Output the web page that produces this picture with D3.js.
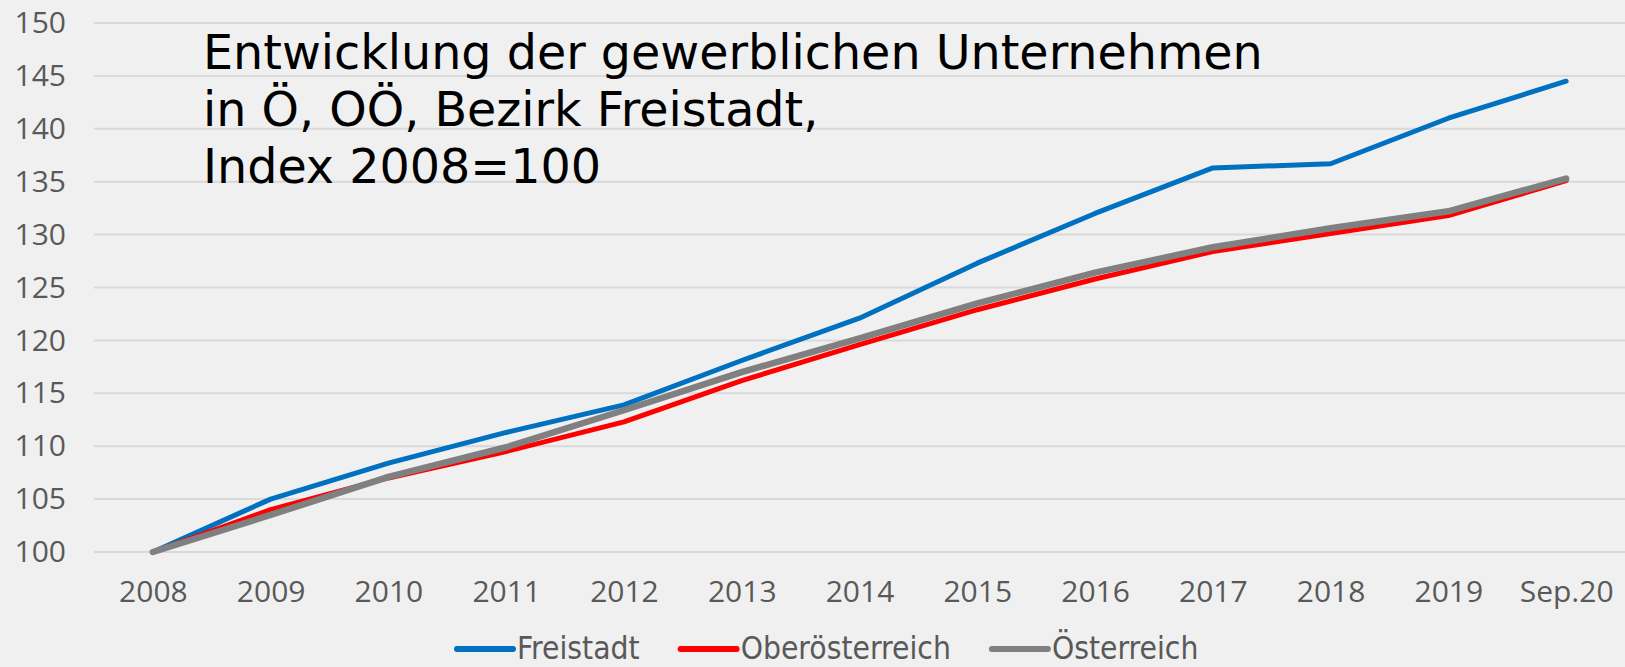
<!DOCTYPE html>
<html>
<head>
<meta charset="utf-8">
<script src="https://cdn.jsdelivr.net/npm/d3@7"></script>
<style>
  html, body { margin: 0; padding: 0; background: #F0F0F0; }
  svg { display: block; }
</style>
</head>
<body>
<svg id="chart" width="1625" height="667"></svg>
<script>
const categories = ["2008","2009","2010","2011","2012","2013","2014","2015","2016","2017","2018","2019","Sep.20"];
const freistadt = [100, 105.0, 108.4, 111.3, 113.9, 118.1, 122.1, 127.3, 132.0, 136.3, 136.7, 141.0, 144.5];
const oberoesterreich = [100, 104.0, 107.0, 109.5, 112.3, 116.2, 119.6, 122.9, 125.8, 128.4, 130.1, 131.8, 135.1];
const oesterreich = [100, 103.5, 107.1, 109.9, 113.4, 117.0, 120.2, 123.5, 126.4, 128.8, 130.6, 132.2, 135.3];
const seriesNames = ["Freistadt", "Oberösterreich", "Österreich"];
const yTicks = [100,105,110,115,120,125,130,135,140,145,150];
const titleLines = ["Entwicklung der gewerblichen Unternehmen", "in Ö, OÖ, Bezirk Freistadt,", "Index 2008=100"];

const series = [
  {name: seriesNames[0], values: freistadt, color: "#0070C0", width: 5},
  {name: seriesNames[1], values: oberoesterreich, color: "#FF0000", width: 5},
  {name: seriesNames[2], values: oesterreich, color: "#808080", width: 6.5}
];

const svg = d3.select("#chart");
svg.append("rect").attr("width", 1625).attr("height", 667).attr("fill", "#F0F0F0");

const x = d3.scalePoint().domain(categories).range([94, 1625]).padding(0.5);
const y = d3.scaleLinear().domain([100, 150]).range([552, 23]);

// gridlines
svg.append("g").selectAll("line").data(yTicks).join("line")
  .attr("x1", 94).attr("x2", 1625)
  .attr("y1", d => y(d)).attr("y2", d => y(d))
  .attr("stroke", "#D9D9D9").attr("stroke-width", 2);

// y axis labels
const yAxis = svg.append("g").attr("transform", "translate(66,0)")
  .call(d3.axisLeft(y).tickValues(yTicks).tickSize(0).tickPadding(0));
yAxis.select(".domain").remove();
yAxis.selectAll("text").attr("font-family", "'Open Sans', sans-serif").attr("font-size", 30).attr("fill", "#595959");

// x axis labels
const xAxis = svg.append("g").attr("transform", "translate(0,552)")
  .call(d3.axisBottom(x).tickSize(0).tickPadding(0));
xAxis.select(".domain").remove();
xAxis.selectAll("text").attr("font-family", "'Open Sans', sans-serif").attr("font-size", 30)
  .attr("fill", "#595959").attr("dy", null).attr("y", 50);

// lines
const line = d3.line().x((d, i) => x(categories[i])).y(d => y(d));
svg.append("g").selectAll("path").data(series).join("path")
  .attr("d", d => line(d.values))
  .attr("fill", "none").attr("stroke", d => d.color).attr("stroke-width", d => d.width)
  .attr("stroke-linejoin", "round").attr("stroke-linecap", "round");

// title
const title = svg.append("text").attr("x", 203).attr("y", 69)
  .attr("font-family", "'DejaVu Sans', Verdana, sans-serif").attr("font-size", 42).attr("fill", "#000");
title.selectAll("tspan").data(titleLines).join("tspan")
  .attr("x", 203).attr("dy", (d, i) => i === 0 ? 0 : 57).text(d => d);
const firstLen = title.select("tspan").node().getComputedTextLength();
const fs = 42 * 1060 / firstLen;
title.attr("font-size", fs);

// legend
const legend = svg.append("g");
let lx = 457;
series.forEach(s => {
  legend.append("line").attr("x1", lx).attr("x2", lx + 56).attr("y1", 649).attr("y2", 649)
    .attr("stroke", s.color).attr("stroke-width", 6).attr("stroke-linecap", "round");
  const t = legend.append("text").attr("x", lx + 60).attr("y", 659)
    .attr("font-family", "'DejaVu Sans Condensed', 'DejaVu Sans', sans-serif")
    .attr("font-stretch", "condensed")
    .attr("font-size", 31.5).attr("fill", "#595959").text(s.name);
  lx += 60 + t.node().getComputedTextLength() + 41;
});
</script>
</body>
</html>
